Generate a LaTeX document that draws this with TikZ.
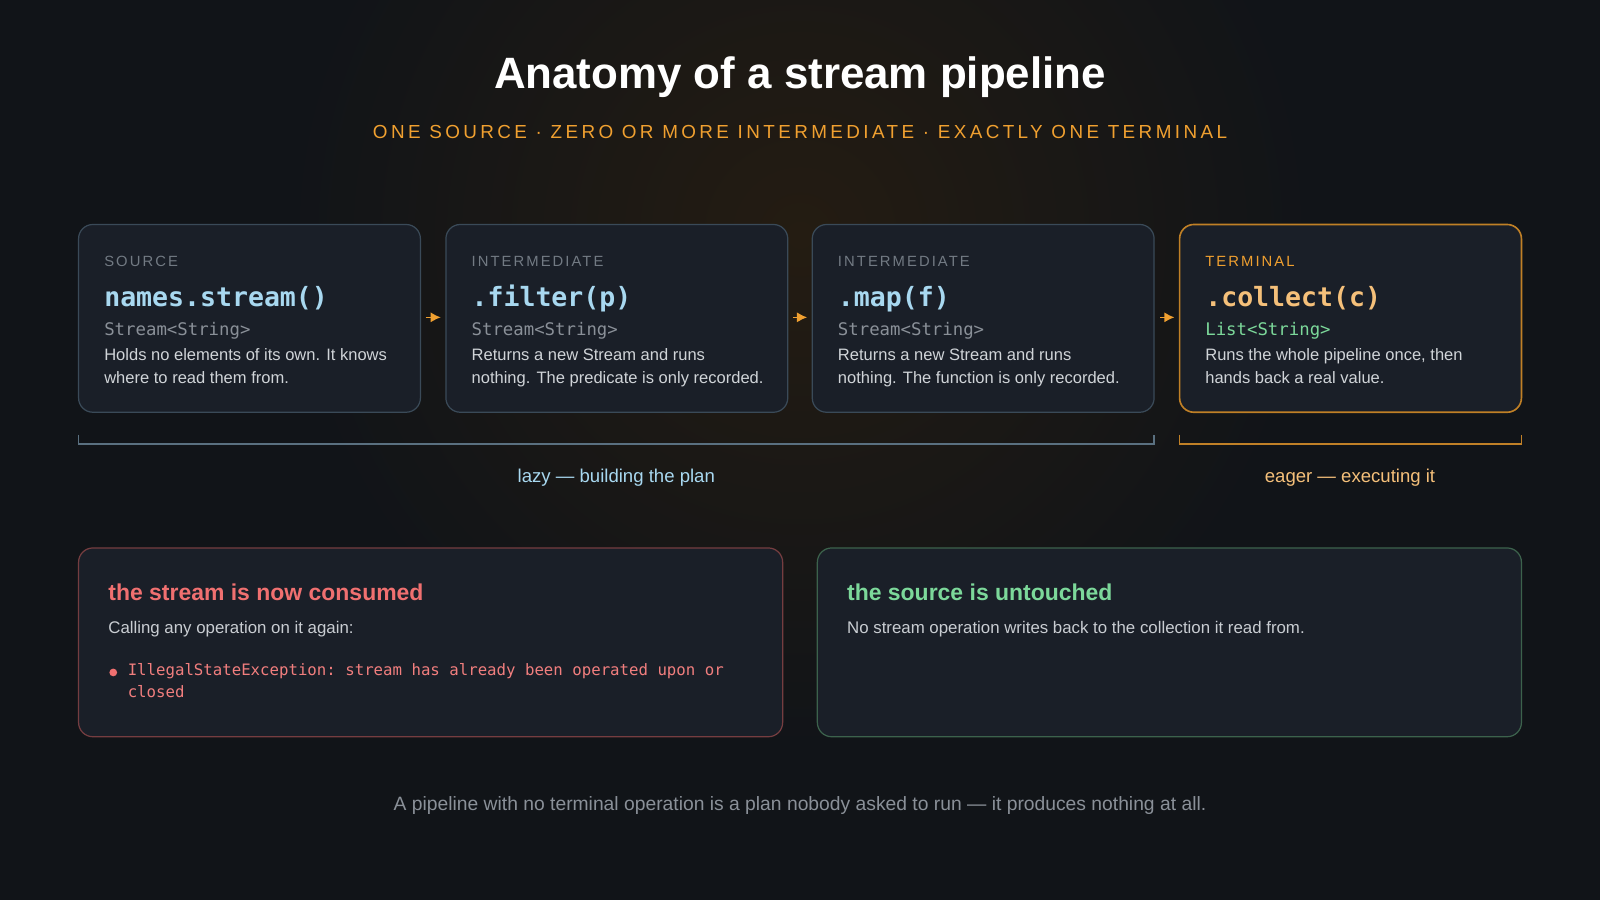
\documentclass[tikz,border=0pt]{standalone}
\usepackage{fontspec}
\setmainfont{Liberation Sans}
\setmonofont{DejaVu Sans Mono}
\usetikzlibrary{shadings,arrows.meta}
\definecolor{bg}{HTML}{111418}
\definecolor{card}{HTML}{1A1F28}
\definecolor{cardb}{HTML}{3A4A58}
\definecolor{orng}{HTML}{F0A030}
\definecolor{blue}{HTML}{A8D8F0}
\definecolor{gold}{HTML}{F5C07A}
\definecolor{grn}{HTML}{7CD89A}
\definecolor{redt}{HTML}{F07070}
\definecolor{gry}{HTML}{8A9098}
\definecolor{lgry}{HTML}{D0D4D8}
\definecolor{glowc}{HTML}{241C12}
\definecolor{brk}{HTML}{5A7080}
\pgfdeclareradialshading{glow}{\pgfpoint{0bp}{0bp}}{color(0bp)=(glowc); color(18bp)=(bg); color(50bp)=(bg)}
\begin{document}
\begin{tikzpicture}[x=1pt,y=-1pt,
 every node/.style={inner sep=0pt},
 cardbox/.style={draw=cardb,fill=card,rounded corners=14pt,line width=1.2pt},
 lab/.style={anchor=base west,text=gry!120,font=\fontsize{14.5}{16}\selectfont\addfontfeature{LetterSpace=14}},
 code/.style={anchor=base west,text=blue,font=\fontsize{26}{30}\ttfamily\bfseries},
 typ/.style={anchor=base west,text=gry,font=\fontsize{17}{20}\ttfamily},
 desc/.style={anchor=north west,text=lgry,align=left,font=\fontsize{16.2}{23}\selectfont},
 arr/.style={-{Latex[length=10pt,width=10pt]},orng,line width=1.5pt,shorten >=1pt,shorten <=1pt}]
\fill[bg] (0,0) rectangle (1568,882);
\useasboundingbox (0,0) rectangle (1568,882);
\shade[shading=glow] (84,-470) rectangle (1484,930);
\fill[bg] (0,0) rectangle (0,0);
\node[text=white,font=\fontsize{43}{46}\bfseries] (title) at (784,76) {Anatomy of a stream pipeline};
\node[text=orng,font=\fontsize{18.5}{20}\selectfont\addfontfeature{LetterSpace=18}] (sub) at (784,129) {ONE SOURCE · ZERO OR MORE INTERMEDIATE · EXACTLY ONE TERMINAL};
% cards
\foreach \i/\x in {1/77,2/437,3/796}{
 \draw[cardbox] (\x,220) rectangle ++(335,184);
 \coordinate (c\i) at (\x,220);}
\draw[cardbox,draw=orng!80!black,line width=1.6pt] (1156,220) rectangle ++(335,184);
\node[lab] (l1) at (102,261) {SOURCE};
\node[lab] (l2) at (462,261) {INTERMEDIATE};
\node[lab] (l3) at (821,261) {INTERMEDIATE};
\node[lab,text=orng] (l4) at (1181,261) {TERMINAL};
\node[code] (k1) at (102,300) {names.stream()};
\node[code] (k2) at (462,300) {.filter(p)};
\node[code] (k3) at (821,300) {.map(f)};
\node[code,text=gold] (k4) at (1181,300) {.collect(c)};
\node[typ] (t1) at (102,329) {Stream<String>};
\node[typ] (t2) at (462,329) {Stream<String>};
\node[typ] (t3) at (821,329) {Stream<String>};
\node[typ,text=grn] (t4) at (1181,329) {List<String>};
\node[desc] (d1) at (102,341) {Holds no elements of its own. It knows\\where to read them from.};
\node[desc] (d2) at (462,341) {Returns a new Stream and runs\\nothing. The predicate is only recorded.};
\node[desc] (d3) at (821,341) {Returns a new Stream and runs\\nothing. The function is only recorded.};
\node[desc] (d4) at (1181,341) {Runs the whole pipeline once, then\\hands back a real value.};
\coordinate (a1) at (416,311); \coordinate (b1) at (433,311);
\coordinate (a2) at (776,311); \coordinate (b2) at (792,311);
\coordinate (a3) at (1136,311); \coordinate (b3) at (1152,311);
\draw[arr] (a1) -- (b1); \draw[arr] (a2) -- (b2); \draw[arr] (a3) -- (b3);
% brackets
\draw[brk,line width=1.5pt] (77,426) -- (77,435) -- (1131,435) -- (1131,426);
\draw[orng!80!black,line width=1.5pt] (1156,426) -- (1156,435) -- (1491,435) -- (1491,426);
\node[text=blue,font=\fontsize{18.2}{20}\selectfont] (lazy) at (604,468) {lazy — building the plan};
\node[text=gold,font=\fontsize{18.2}{20}\selectfont] (eager) at (1323,468) {eager — executing it};
% bottom boxes
\draw[cardbox,draw=redt!45!bg] (77,537) rectangle (767,722);
\draw[cardbox,draw=grn!40!bg] (801,537) rectangle (1491,722);
\node[anchor=base west,text=redt,font=\fontsize{22.5}{26}\bfseries] (rt) at (106,588) {the stream is now consumed};
\node[anchor=base west,text=lgry!90!gry,font=\fontsize{16.5}{20}\selectfont] (rc) at (106,621) {Calling any operation on it again:};
\fill[redt] (111,659) circle (3.8);
\node[anchor=north west,text=redt!90!white,align=left,font=\fontsize{15.4}{21.5}\ttfamily] (ex) at (125,650) {IllegalStateException: stream has already been operated upon or\\closed};
\node[anchor=base west,text=grn,font=\fontsize{22.5}{26}\bfseries] (gt) at (830,588) {the source is untouched};
\node[anchor=base west,text=lgry!90!gry,font=\fontsize{16.5}{20}\selectfont] (gc) at (830,621) {No stream operation writes back to the collection it read from.};
\node[text=gry,font=\fontsize{18.9}{22}\selectfont] (foot) at (784,789) {A pipeline with no terminal operation is a plan nobody asked to run — it produces nothing at all.};
\end{tikzpicture}
\end{document}
